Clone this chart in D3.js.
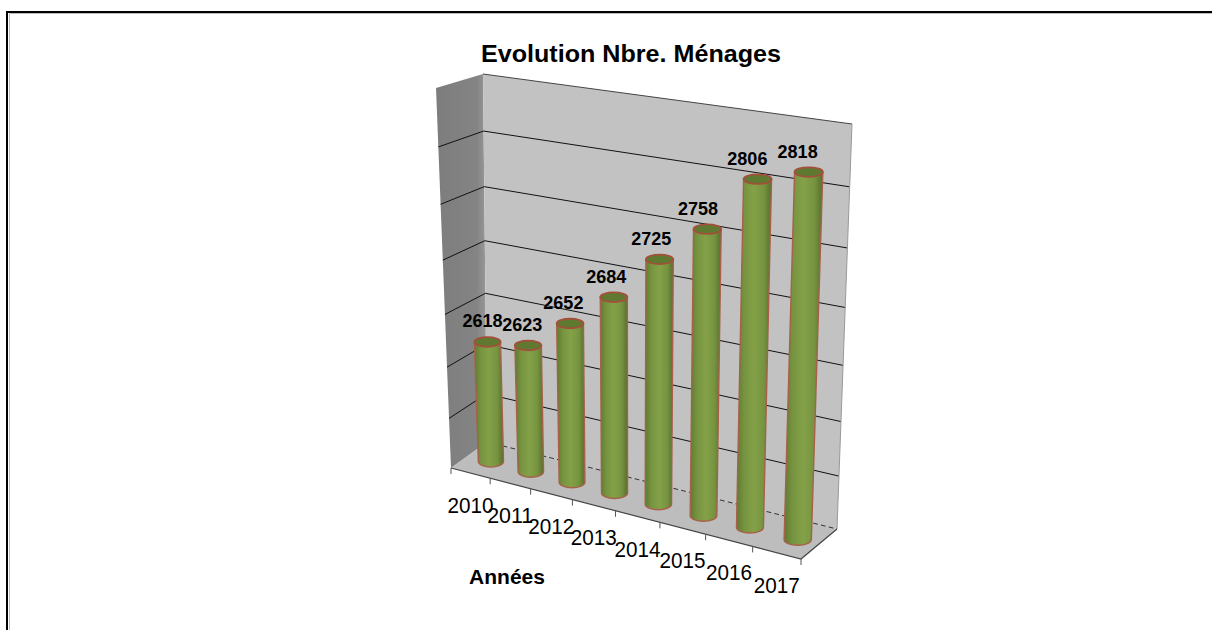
<!DOCTYPE html>
<html><head><meta charset="utf-8">
<script src="https://cdn.jsdelivr.net/npm/d3@7"></script>
<style>html,body{margin:0;padding:0;background:#fff;overflow:hidden}svg{display:block}text{font-family:"Liberation Sans",Arial,sans-serif}</style>
</head><body><svg id="c" width="1212" height="630"></svg>
<script>
const years = ["2010","2011","2012","2013","2014","2015","2016","2017"];
const households = [2618,2623,2652,2684,2725,2758,2806,2818];
const gridValues = [2500,2550,2600,2650,2700,2750,2800,2850];
const chartTitle = "Evolution Nbre. Ménages";
const xTitle = "Années";

const svg = d3.select("#c");
// box corners in screen space: b = back, f = front; l/r; B = bottom, T = top
const C = {
  blB:[487,442], brB:[837,529], blT:[483,74], brT:[852,124],
  flB:[451,468], frB:[801,559], flT:[436,88], frT:[816,146]
};
const x = d3.scaleBand().domain(years).range([0,1]);
const y = d3.scaleLinear().domain([2500,2850]).range([0,1]);
const warpU = u => 0.88*u + 0.12*u*u;
const warpV = v => 0.9*v + 0.1*v*v;
const lerp = (a,b,t) => [a[0]+(b[0]-a[0])*t, a[1]+(b[1]-a[1])*t];
function P(u,v,w){ // u along categories, v up, w 0 back..1 front
  const U = warpU(u), V = warpV(v);
  const back = lerp(lerp(C.blB,C.brB,U), lerp(C.blT,C.brT,U), V);
  const front = lerp(lerp(C.flB,C.frB,U), lerp(C.flT,C.frT,U), V);
  return lerp(back,front,w);
}
const poly = pts => "M"+pts.map(p=>p.join(",")).join("L")+"Z";
const defs = svg.append("defs");

// frame
svg.append("path").attr("d","M9.5,630V13.5H1212").attr("fill","none").attr("stroke","#bbb").attr("stroke-width",1);
svg.append("path").attr("d","M7,630V12H1212").attr("fill","none").attr("stroke","#000").attr("stroke-width",2);

// walls
const wg = defs.append("linearGradient").attr("id","wall").attr("x1",0).attr("x2",1).attr("y1",0).attr("y2",0);
wg.append("stop").attr("offset","0%").attr("stop-color","#7d7d7d");
wg.append("stop").attr("offset","80%").attr("stop-color","#848484");
wg.append("stop").attr("offset","100%").attr("stop-color","#9a9a9a");
svg.append("path").attr("d",poly([C.flB,C.blB,C.blT,C.flT])).attr("fill","url(#wall)");
svg.append("path").attr("d",poly([C.blB,C.brB,C.brT,C.blT])).attr("fill","#c2c2c2");
svg.append("path").attr("d",poly([C.flB,C.frB,C.brB,C.blB])).attr("fill","#bdbdbd");

// gridlines
gridValues.forEach((g,i)=>{
  const v = y(g);
  if(i===0){
    svg.append("path").attr("d","M"+P(0,0,0)+"L"+P(1,0,0)).attr("stroke","#333").attr("stroke-width",1).attr("stroke-dasharray","5 3").attr("fill","none");
    return;
  }
  const isTop = i===gridValues.length-1;
  svg.append("path").attr("d","M"+P(1,v,0)+"L"+P(0,v,0)+(isTop?"":"L"+P(0,v,1)))
    .attr("fill","none").attr("stroke",isTop?"#444":"#111").attr("stroke-width",1);
});
svg.append("path").attr("d","M"+C.brT+"L"+C.brB).attr("stroke","#999").attr("fill","none");

// floor edges and ticks
svg.append("path").attr("d","M"+C.flB+"L"+C.frB+"L"+C.brB).attr("fill","none").attr("stroke","#444").attr("stroke-width",1.2);
const tickU = years.map(d=>x(d)).concat([1]);
tickU.forEach(u=>{
  const p = P(u,0,1);
  svg.append("line").attr("x1",p[0]).attr("y1",p[1]).attr("x2",p[0]).attr("y2",p[1]+6).attr("stroke","#555").attr("stroke-width",1);
});

// cylinders
const bg = defs.append("linearGradient").attr("id","cyl").attr("x1",0).attr("x2",1).attr("y1",0).attr("y2",0);
[[0,"#5f7a30"],[.22,"#769440"],[.5,"#84a148"],[.78,"#769440"],[1,"#566f2c"]].forEach(s=>
  bg.append("stop").attr("offset",s[0]).attr("stop-color",s[1]));

const bars = svg.append("g");
years.forEach((yr,i)=>{
  const u = x(yr)+x.bandwidth()/2, v = y(households[i]);
  const B = P(u+.008,-.003,.5), T = P(u+.005,v,.5);
  const rb = 12.5+1.2*u, rt = 13+1.2*u, ryb = 5.5, ryt = 4.8;
  bars.append("path")
    .attr("d",`M${T[0]-rt},${T[1]}L${B[0]-rb},${B[1]}A${rb},${ryb} 0 0 0 ${B[0]+rb},${B[1]}L${T[0]+rt},${T[1]}Z`)
    .attr("fill","url(#cyl)").attr("stroke","#a8604a").attr("stroke-width",1.4);
  bars.append("ellipse").attr("cx",T[0]).attr("cy",T[1]).attr("rx",rt).attr("ry",ryt)
    .attr("fill","#5f7a30").attr("stroke","#a3503a").attr("stroke-width",1.8);
  svg.append("text").attr("x",T[0]-4.5-7*u).attr("y",T[1]-14.5).attr("text-anchor","middle")
    .attr("font-size",18).attr("font-weight","bold").attr("fill","#000").text(households[i]);
  const e = P(u,0,1);
  svg.append("text").attr("x",e[0]).attr("y",e[1]+40).attr("text-anchor","middle")
    .attr("font-size",21.5).attr("textLength",46).attr("lengthAdjust","spacingAndGlyphs").attr("fill","#000").text(yr);
});

svg.append("text").attr("x",481).attr("y",62).attr("font-size",23).attr("font-weight","bold")
  .attr("textLength",300).attr("lengthAdjust","spacingAndGlyphs").text(chartTitle);
svg.append("text").attr("x",507).attr("y",584).attr("text-anchor","middle").attr("font-size",21).attr("font-weight","bold").text(xTitle);
</script></body></html>
